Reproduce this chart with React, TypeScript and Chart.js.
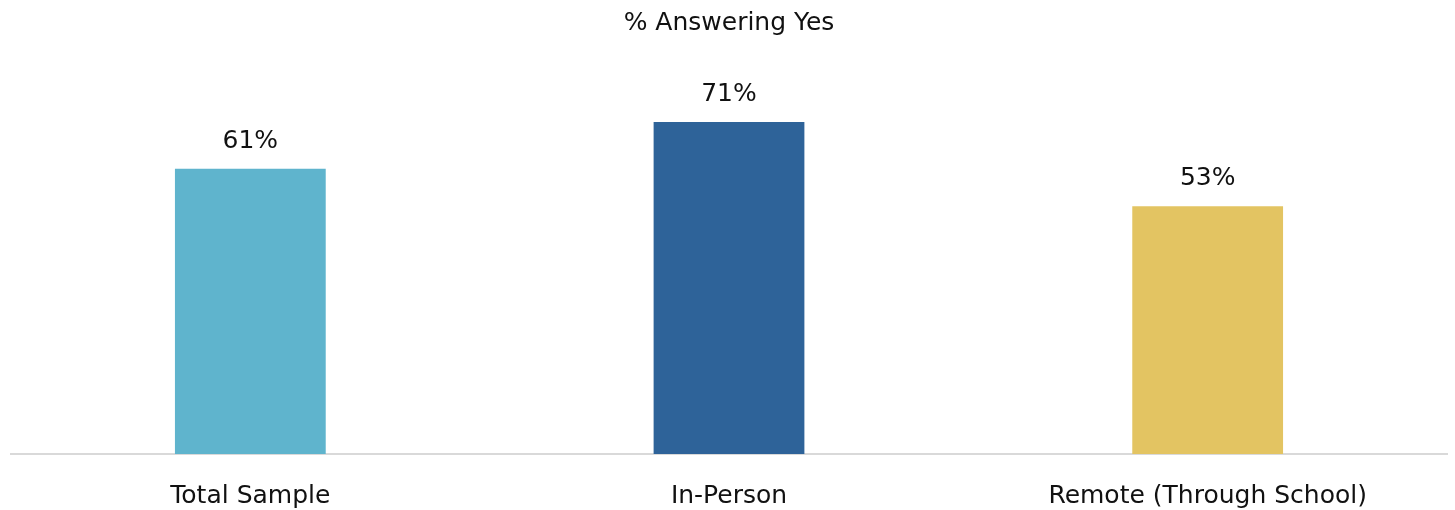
import React, { useEffect, useRef } from "react";
import { Chart, registerables } from "chart.js";

Chart.register(...registerables);

const categories = ["Total Sample", "In-Person", "Remote (Through School)"];
const values = [61, 71, 53];
const barColors = ["#5FB4CD", "#2E6399", "#E3C462"];
const titleText = "% Answering Yes";
const FONT = "'DejaVu Sans', sans-serif";

const valueLabels = {
  id: "valueLabels",
  afterDatasetsDraw(chart: any) {
    const { ctx } = chart;
    const meta = chart.getDatasetMeta(0);
    ctx.save();
    ctx.font = `25px ${FONT}`;
    ctx.fillStyle = "#111111";
    ctx.textAlign = "center";
    ctx.textBaseline = "alphabetic";
    meta.data.forEach((bar: any, i: number) => {
      ctx.fillText(`${values[i]}%`, bar.x, bar.y - 21);
    });
    ctx.restore();
  },
};

export default function App() {
  const ref = useRef<HTMLCanvasElement | null>(null);
  useEffect(() => {
    document.body.style.margin = "0";
    if (!ref.current) return;
    const chart = new Chart(ref.current, {
      type: "bar",
      data: {
        labels: categories,
        datasets: [
          {
            data: values,
            backgroundColor: barColors,
            categoryPercentage: 1,
            barPercentage: 0.315,
          },
        ],
      },
      options: {
        animation: false,
        responsive: false,
        layout: { padding: { left: 11, right: 8, top: 0, bottom: -28 } },
        plugins: {
          legend: { display: false },
          tooltip: { enabled: false },
          title: {
            display: true,
            text: titleText,
            color: "#111111",
            font: { family: FONT, size: 25, weight: "normal" },
            padding: { top: 8, bottom: 42 },
          },
        },
        scales: {
          x: {
            grid: { display: false, drawTicks: false },
            border: { display: true, color: "#D9D9D9", width: 2 },
            ticks: {
              color: "#111111",
              font: { family: FONT, size: 25 },
              padding: 27,
            },
          },
          y: {
            display: false,
            min: 0,
            max: 80,
          },
        },
      },
      plugins: [valueLabels],
    });
    return () => chart.destroy();
  }, []);
  return (
    <div style={{ width: 1455, height: 510 }}>
      <canvas ref={ref} width={1455} height={510} style={{ display: "block" }} />
    </div>
  );
}
